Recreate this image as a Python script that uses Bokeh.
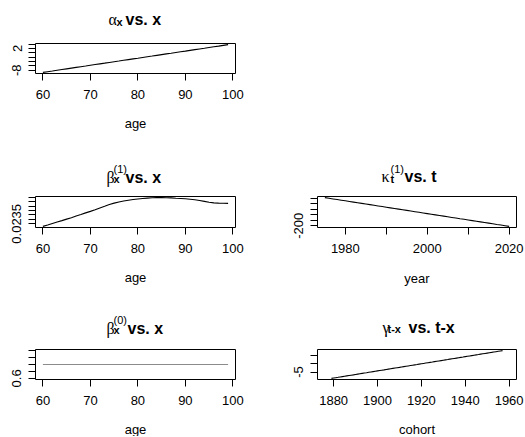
from bokeh.plotting import figure
from bokeh.layouts import column, row
from bokeh.models import Range1d, FixedTicker, Spacer
from bokeh.core.properties import value
from bokeh.embed import file_html
from bokeh.resources import INLINE

NAN = float("nan")

# ---------------- data ----------------
ages = list(range(60, 100))
alpha_x = [-9.00, -8.67, -8.35, -8.02, -7.69, -7.37, -7.04, -6.71, -6.38, -6.06,
           -5.73, -5.40, -5.07, -4.75, -4.42, -4.09, -3.77, -3.44, -3.11, -2.78,
           -2.46, -2.13, -1.80, -1.48, -1.15, -0.82, -0.49, -0.17, 0.16, 0.49,
           0.81, 1.14, 1.47, 1.80, 2.12, 2.45, 2.78, 3.11, 3.45, 3.79]
beta1_x = [0.02321, 0.02337, 0.02354, 0.02370, 0.02386, 0.02403, 0.02419, 0.02438, 0.02455, 0.02474,
           0.02491, 0.02510, 0.02530, 0.02549, 0.02569, 0.02585, 0.02598, 0.02608, 0.02618, 0.02626,
           0.02632, 0.02637, 0.02642, 0.02645, 0.02647, 0.02647, 0.02645, 0.02644, 0.02640, 0.02637,
           0.02634, 0.02629, 0.02623, 0.02614, 0.02605, 0.02595, 0.02588, 0.02585, 0.02583, 0.02582]
beta0_x = [1.0, 1.0, 1.0, 1.0, 1.0, 1.0, 1.0, 1.0, 1.0, 1.0,
           1.0, 1.0, 1.0, 1.0, 1.0, 1.0, 1.0, 1.0, 1.0, 1.0,
           1.0, 1.0, 1.0, 1.0, 1.0, 1.0, 1.0, 1.0, 1.0, 1.0,
           1.0, 1.0, 1.0, 1.0, 1.0, 1.0, 1.0, 1.0, 1.0, 1.0]
years = list(range(1975, 2021))
kappa1_t = [55.6, 49.8, 44.0, 38.2, 32.4, 26.7, 20.9, 15.1, 9.3, 3.5,
            -2.3, -8.1, -13.9, -19.7, -25.4, -31.2, -37.0, -42.8, -48.6, -54.4,
            -60.2, -66.0, -71.8, -77.6, -83.3, -89.1, -94.9, -100.7, -106.5, -112.3,
            -118.1, -123.9, -129.7, -135.5, -141.2, -147.0, -152.8, -158.6, -164.4, -170.2,
            -176.0, -181.8, -187.6, -193.3, -199.1, -205.0]
cohorts = list(range(1876, 1961))
gamma_c = [NAN, NAN, NAN,
           -8.75, -8.54, -8.33, -8.12, -7.90, -7.69, -7.48, -7.27, -7.06, -6.85,
           -6.64, -6.42, -6.21, -6.00, -5.79, -5.58, -5.37, -5.15, -4.94, -4.73,
           -4.52, -4.31, -4.10, -3.89, -3.68, -3.46, -3.25, -3.04, -2.83, -2.62,
           -2.41, -2.20, -1.98, -1.77, -1.56, -1.35, -1.14, -0.93, -0.72, -0.51,
           -0.29, -0.08, 0.13, 0.34, 0.55, 0.76, 0.97, 1.19, 1.40, 1.61,
           1.82, 2.03, 2.24, 2.45, 2.67, 2.88, 3.09, 3.30, 3.51, 3.72,
           3.93, 4.15, 4.36, 4.57, 4.78, 4.99, 5.20, 5.41, 5.63, 5.84,
           6.05, 6.26, 6.47, 6.68, 6.90, 7.11, 7.32, 7.53, 7.74,
           NAN, NAN, NAN]

age_ticks = [60, 70, 80, 90, 100]
age_labels = ["60", "70", "80", "90", "100"]
year_ticks = [1980, 1990, 2000, 2010, 2020]
year_labels = ["1980", "", "2000", "", "2020"]
cohort_ticks = [1880, 1900, 1920, 1940, 1960]
cohort_labels = ["1880", "1900", "1920", "1940", "1960"]
alpha_ticks = [-8, -6, -4, -2, 0, 2, 4]
alpha_labels = ["-8", "", "", "", "", "2", ""]
beta1_ticks = [0.0235, 0.0240, 0.0245, 0.0250, 0.0255, 0.0260, 0.0265]
beta1_labels = ["0.0235", "", "", "", "", "", ""]
kappa_ticks = [-200, -150, -100, -50, 0, 50]
kappa_labels = ["-200", "", "", "", "", ""]
beta0_ticks = [0.6, 0.8, 1.0, 1.2, 1.4]
beta0_labels = ["0.6", "", "", "", ""]
gamma_ticks = [-5, 0, 5]
gamma_labels = ["-5", "", ""]

FONT = "Liberation Sans"
GREEK = "Liberation Serif"
W = 524


def r_range(vals):
    v = [a for a in vals if a == a]
    lo, hi = min(v), max(v)
    if hi == lo:
        lo, hi = lo - 0.4 * abs(lo), hi + 0.4 * abs(hi)
    d = 0.04 * (hi - lo)
    return lo - d, hi + d


def panel(xs, ys, xt, xl, yt, yl, fw, fh, mb, color):
    p = figure(frame_width=fw, frame_height=fh,
               x_range=Range1d(*r_range(xs)), y_range=Range1d(*r_range(ys)),
               output_backend="svg", toolbar_location=None,
               min_border_left=mb[0], min_border_right=mb[1],
               min_border_top=1, min_border_bottom=32)
    p.xgrid.visible = False
    p.ygrid.visible = False
    p.outline_line_color = "black"
    p.outline_line_width = 1
    p.outline_line_alpha = 1
    p.background_fill_color = "white"
    p.border_fill_color = "white"
    p.line(xs, ys, line_color=color, line_width=1.1)
    for ax, ticks, labels in ((p.xaxis[0], xt, xl), (p.yaxis[0], yt, yl)):
        ax.ticker = FixedTicker(ticks=ticks)
        ax.major_label_overrides = {t: s for t, s in zip(ticks, labels)}
        ax.axis_line_color = None
        ax.major_tick_in = 0
        ax.major_tick_out = 7
        ax.major_tick_line_color = "black"
        ax.minor_tick_line_color = None
        ax.major_label_text_font = FONT
        ax.major_label_text_font_size = "13px"
        ax.major_label_text_color = "black"
    p.xaxis.major_label_standoff = 9
    p.yaxis.major_label_standoff = 7
    p.yaxis.major_label_orientation = "vertical"
    return p


def text_strip(top, h, items):
    """items: (text, x, y_baseline, font, size, style, align) in page pixels."""
    t = figure(frame_width=W, frame_height=h, x_range=Range1d(0, W),
               y_range=Range1d(h, 0), x_axis_type=None, y_axis_type=None,
               output_backend="svg", toolbar_location=None,
               min_border_left=0, min_border_right=0, min_border_top=0, min_border_bottom=0)
    t.xgrid.visible = False
    t.ygrid.visible = False
    t.outline_line_color = None
    t.background_fill_color = "white"
    t.border_fill_color = "white"
    for text, x, y, font, size, style, align in items:
        t.text(x=[x], y=[y - top], text=[text], text_font=value(font),
               text_font_size=value(size), text_font_style=style,
               text_align=align, text_baseline="alphabetic", text_color="black")
    return t


def title(greek, sub, sup, rest, gx, sx, rx, base):
    parts = [(greek, gx, base, GREEK, "16px", "normal", "left"),
             (sub, sx, base + 2, FONT, "11px", "bold", "left")]
    if sup:
        parts.append((sup, sx, base - 8, FONT, "11px", "normal", "left"))
    parts.append((rest, rx, base, FONT, "16px", "bold", "left"))
    return parts


def xlab(text, cx, base):
    return [(text, cx, base, FONT, "13px", "normal", "center")]


LEFT = (35, 27)
RIGHT = (55, 8)
LC = 135
RC = 416.5

p1 = panel(ages, alpha_x, age_ticks, age_labels, alpha_ticks, alpha_labels, 200, 30, LEFT, "black")
p2 = panel(ages, beta1_x, age_ticks, age_labels, beta1_ticks, beta1_labels, 200, 31, LEFT, "black")
p3 = panel(years, kappa1_t, year_ticks, year_labels, kappa_ticks, kappa_labels, 199, 31, RIGHT, "black")
p4 = panel(ages, beta0_x, age_ticks, age_labels, beta0_ticks, beta0_labels, 200, 30, LEFT, "#8c8c8c")
p5 = panel(cohorts, gamma_c, cohort_ticks, cohort_labels, gamma_ticks, gamma_labels, 199, 30, RIGHT, "black")

t0 = text_strip(0, 42, title("\u03b1", "x", None, "vs. x", 108, 116, 125, 19.3))
t1 = text_strip(105, 90, xlab("age", LC, 123.3)
                + title("\u03b2", "x", "(1)", "vs. x", 106, 113, 125, 176.7)
                + title("\u03ba", "t", "(1)", "vs. t", 381, 390, 404, 176.0))
t2 = text_strip(259, 89, xlab("age", LC, 277.3) + xlab("year", RC, 277.7)
                + title("\u03b2", "x", "(0)", "vs. x", 106, 113, 127, 327.7)
                + title("\u03b3", "t-x", None, "vs. t-x", 382, 387, 408, 326.7))
t3 = text_strip(411, 25, xlab("age", LC, 429.3) + xlab("cohort", RC, 429.3))

layout = column(t0, row(p1, Spacer(width=262, height=63)), t1,
                row(p2, p3), t2, row(p4, p5), t3)

open("out.html", "w").write(file_html(layout, INLINE))
